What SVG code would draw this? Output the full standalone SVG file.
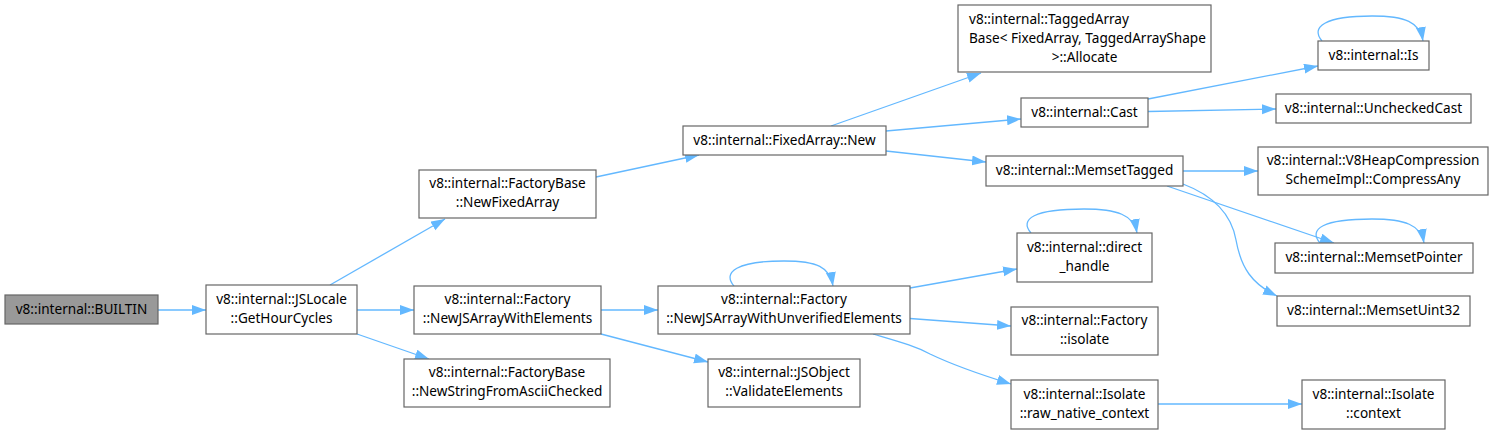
<svg xmlns="http://www.w3.org/2000/svg" width="1494" height="434" viewBox="0 0 1494 434">
<defs>
<marker id="ah" markerUnits="userSpaceOnUse" markerWidth="15" markerHeight="11" refX="14" refY="5" orient="auto">
<path d="M0,0 L14,5 L0,10 z" fill="#63b8ff" stroke="none"/>
</marker>
<style>
.n rect{fill:#fff;stroke:#666;stroke-width:1.2}
.n.g rect{fill:#999}
.n text{font-family:"Noto Sans","DejaVu Sans",sans-serif;font-size:13.6px;fill:#000;text-anchor:middle}
.n text.l{text-anchor:start}
#edges path{fill:none;stroke:#63b8ff;stroke-width:1.3;marker-end:url(#ah)}
</style>
</defs>
<rect width="1494" height="434" fill="#fff"/>
<g id="edges">
<path d="M158,310 L206,310"/>
<path d="M330,285 L445,219"/>
<path d="M357,334 L429,359"/>
<path d="M357,310 L414,310"/>
<path d="M596,177 L699,155"/>
<path d="M601,310 L658,310"/>
<path d="M601,334 L708,362"/>
<path d="M831,126 L981,73"/>
<path d="M886,131 L1021,119"/>
<path d="M886,151 L986,162"/>
<path d="M1148,99 L1318,66"/>
<path d="M1148,111.5 L1276,109"/>
<path d="M1183,171 L1258,171"/>
<path d="M1167,186 L1334,243"/>
<path d="M1183,184 C1212,195 1231,212 1236,240 C1241,268 1252,284 1277,296"/>
<path d="M910,288 L1017,269"/>
<path d="M910,318.5 L1011,326"/>
<path d="M873,334 C900,342 915,346 930,354 C955,366 985,376 1011,384"/>
<path d="M1158,404 L1302,404"/>
<path d="M734,286 C722,272 737,261 784,261 C817,261 830,267 833,286"/>
<path d="M1031,233 C1019,219 1034,209 1084,209 C1117,209 1134,215 1137,233"/>
<path d="M1322,41 C1310,27 1325,16 1372,16 C1405,16 1420,22 1423,41"/>
<path d="M1320,243 C1308,229 1323,219 1372,219 C1405,219 1421,225 1424,243"/>
</g>
<g id="n_builtin" class="n g"><rect x="5" y="295" width="153" height="29"/><text x="81.5" y="314">v8::internal::BUILTIN</text></g>
<g id="n_gethourcycles" class="n"><rect x="206" y="285" width="151" height="49"/><text x="281.5" y="304">v8::internal::JSLocale</text><text x="281.5" y="323">::GetHourCycles</text></g>
<g id="n_newfixedarray" class="n"><rect x="419" y="170" width="177" height="48"/><text x="507.5" y="188">v8::internal::FactoryBase</text><text x="507.5" y="207">::NewFixedArray</text></g>
<g id="n_newjsarraywithelements" class="n"><rect x="414" y="286" width="187" height="48"/><text x="507.5" y="304">v8::internal::Factory</text><text x="507.5" y="323">::NewJSArrayWithElements</text></g>
<g id="n_newstringfromasciichecked" class="n"><rect x="404" y="359" width="206" height="48"/><text x="507" y="377">v8::internal::FactoryBase</text><text x="507" y="396">::NewStringFromAsciiChecked</text></g>
<g id="n_fixedarraynew" class="n"><rect x="683" y="126" width="203" height="29"/><text x="784.5" y="145">v8::internal::FixedArray::New</text></g>
<g id="n_newjsarraywithunverified" class="n"><rect x="658" y="286" width="252" height="48"/><text x="784" y="304">v8::internal::Factory</text><text x="784" y="323">::NewJSArrayWithUnverifiedElements</text></g>
<g id="n_validateelements" class="n"><rect x="708" y="359" width="152" height="48"/><text x="784" y="377">v8::internal::JSObject</text><text x="784" y="396">::ValidateElements</text></g>
<g id="n_allocate" class="n"><rect x="958" y="5" width="253" height="67"/><text class="l" x="969" y="24">v8::internal::TaggedArray</text><text class="l" x="969" y="43">Base&lt; FixedArray, TaggedArrayShape</text><text x="1084.5" y="62">&gt;::Allocate</text></g>
<g id="n_cast" class="n"><rect x="1021" y="98" width="127" height="29"/><text x="1084.5" y="117">v8::internal::Cast</text></g>
<g id="n_memsettagged" class="n"><rect x="986" y="156" width="197" height="30"/><text x="1084.5" y="175">v8::internal::MemsetTagged</text></g>
<g id="n_is" class="n"><rect x="1318" y="41" width="111" height="29"/><text x="1373.5" y="60">v8::internal::Is</text></g>
<g id="n_uncheckedcast" class="n"><rect x="1276" y="94" width="195" height="29"/><text x="1373.5" y="113">v8::internal::UncheckedCast</text></g>
<g id="n_compressany" class="n"><rect x="1258" y="147" width="230" height="48"/><text x="1373" y="165">v8::internal::V8HeapCompression</text><text x="1373" y="184">SchemeImpl::CompressAny</text></g>
<g id="n_direct_handle" class="n"><rect x="1017" y="233" width="135" height="49"/><text x="1084.5" y="252">v8::internal::direct</text><text x="1084.5" y="271">_handle</text></g>
<g id="n_factory_isolate" class="n"><rect x="1011" y="307" width="147" height="48"/><text x="1084.5" y="325">v8::internal::Factory</text><text x="1084.5" y="344">::isolate</text></g>
<g id="n_raw_native_context" class="n"><rect x="1011" y="380" width="147" height="49"/><text x="1084.5" y="399">v8::internal::Isolate</text><text x="1084.5" y="418">::raw_native_context</text></g>
<g id="n_memsetpointer" class="n"><rect x="1275" y="243" width="198" height="30"/><text x="1374" y="262">v8::internal::MemsetPointer</text></g>
<g id="n_memsetuint32" class="n"><rect x="1277" y="296" width="193" height="30"/><text x="1373.5" y="315">v8::internal::MemsetUint32</text></g>
<g id="n_isolate_context" class="n"><rect x="1302" y="380" width="143" height="49"/><text x="1373.5" y="399">v8::internal::Isolate</text><text x="1373.5" y="418">::context</text></g>
</svg>
